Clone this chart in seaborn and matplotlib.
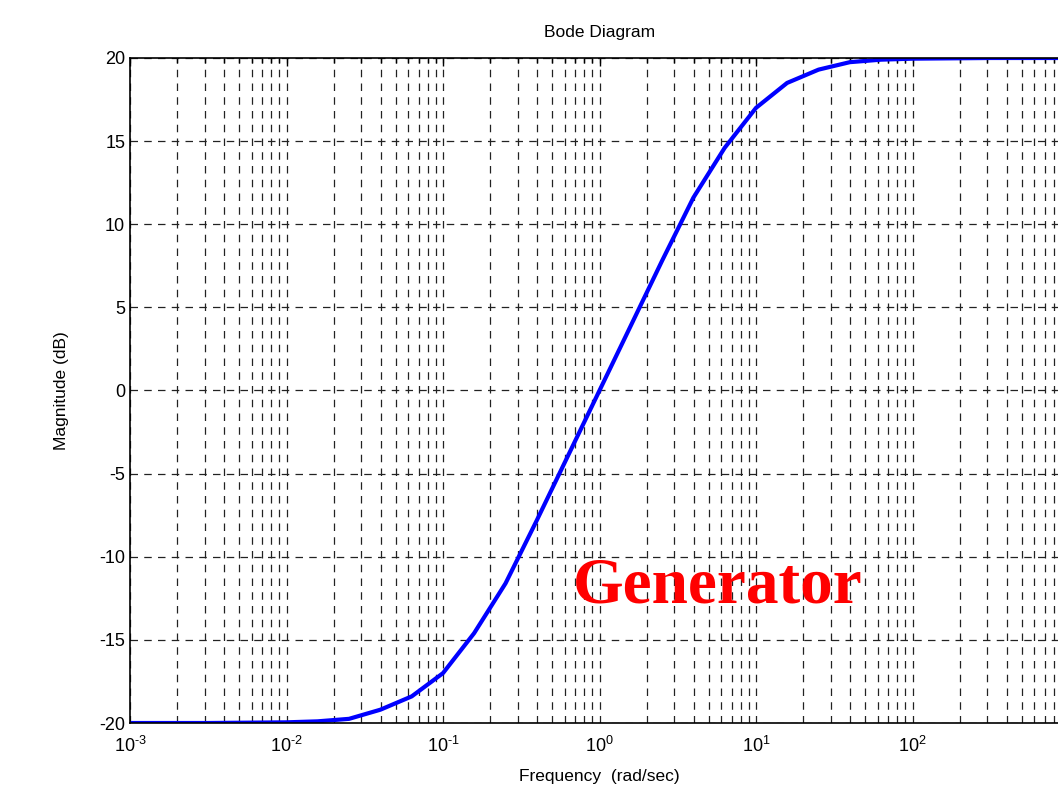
import numpy as np
import pandas as pd
import matplotlib
matplotlib.use("Agg")
import matplotlib.pyplot as plt
import seaborn as sns
from matplotlib.ticker import LogLocator, FixedLocator

# data
freq = [0.001, 0.00316, 0.01, 0.0158, 0.0251, 0.0398, 0.0631, 0.1, 0.158,
        0.251, 0.398, 0.631, 1.0, 1.585, 2.51, 3.98, 6.31, 10.0, 15.8,
        25.1, 39.8, 63.1, 100.0, 316.0, 1000.0]
mag_db = [-20.0, -20.0, -19.96, -19.9, -19.75, -19.2, -18.4, -17.0, -14.6,
          -11.6, -7.8, -3.9, 0.0, 3.9, 7.8, 11.6, 14.6, 17.0, 18.5,
          19.3, 19.75, 19.9, 19.96, 20.0, 20.0]
yticks = [-20, -15, -10, -5, 0, 5, 10, 15, 20]
xtick_labels = [r"10$^{\text{-3}}$", r"10$^{\text{-2}}$", r"10$^{\text{-1}}$",
                r"10$^{\text{0}}$", r"10$^{\text{1}}$", r"10$^{\text{2}}$", ""]

df = pd.DataFrame({"freq": freq, "mag": mag_db})

sns.set_style("white")
plt.rcParams["font.family"] = ["Liberation Sans", "DejaVu Sans"]
plt.rcParams["mathtext.fontset"] = "custom"
plt.rcParams["mathtext.rm"] = "Liberation Sans"
plt.rcParams["mathtext.it"] = "Liberation Sans"
plt.rcParams["mathtext.default"] = "regular"
plt.rcParams["axes.unicode_minus"] = False
plt.rcParams["text.color"] = "black"
plt.rcParams["axes.labelcolor"] = "black"

W, H = 1058, 789
fig = plt.figure(figsize=(W / 100, H / 100), dpi=100)
left, right, top, bottom = 130, 1069, 58, 723
ax = fig.add_axes([left / W, 1 - bottom / H, (right - left) / W, (bottom - top) / H])

sns.lineplot(data=df, x="freq", y="mag", ax=ax, color="#0000ff", linewidth=3)
ax.set_xscale("log")
ax.set_xlim(1e-3, 1e3)
ax.set_ylim(-20, 20)

ax.set_yticks(yticks)
ax.set_yticklabels([str(v) for v in yticks])
ax.xaxis.set_major_locator(FixedLocator([1e-3, 1e-2, 1e-1, 1, 10, 100, 1000]))
ax.set_xticklabels(xtick_labels)
ax.xaxis.set_minor_locator(LogLocator(base=10, subs=np.arange(2, 10), numticks=100))
ax.xaxis.set_minor_formatter(plt.NullFormatter())

ax.tick_params(axis="both", which="both", direction="in", top=True, right=True,
               labelsize=13, colors="black")
ax.tick_params(axis="both", which="major", length=6, width=1)
ax.tick_params(axis="x", which="minor", length=3.5, width=1)
ax.tick_params(axis="x", which="major", pad=9)

ax.grid(True, which="major", axis="both", color="#222222", linestyle=(0, (6, 5)), linewidth=0.9)
ax.grid(True, which="minor", axis="x", color="#222222", linestyle=(0, (6, 5)), linewidth=0.9)

for s in ax.spines.values():
    s.set_color("black")
    s.set_linewidth(1.2)

ax.set_title("Bode Diagram", fontsize=12.5, pad=15, color="black")
ax.set_ylabel("Magnitude (dB)", fontsize=12.5, labelpad=22)
ax.set_xlabel("Frequency  (rad/sec)", fontsize=12.5, labelpad=10)

ax.text(0.472, 0.205, "Generator", transform=ax.transAxes, color="#ff0000",
        fontsize=47, fontweight="bold", family=["Liberation Serif", "DejaVu Serif"],
        ha="left", va="center")

fig.savefig("out.png", dpi=100)
